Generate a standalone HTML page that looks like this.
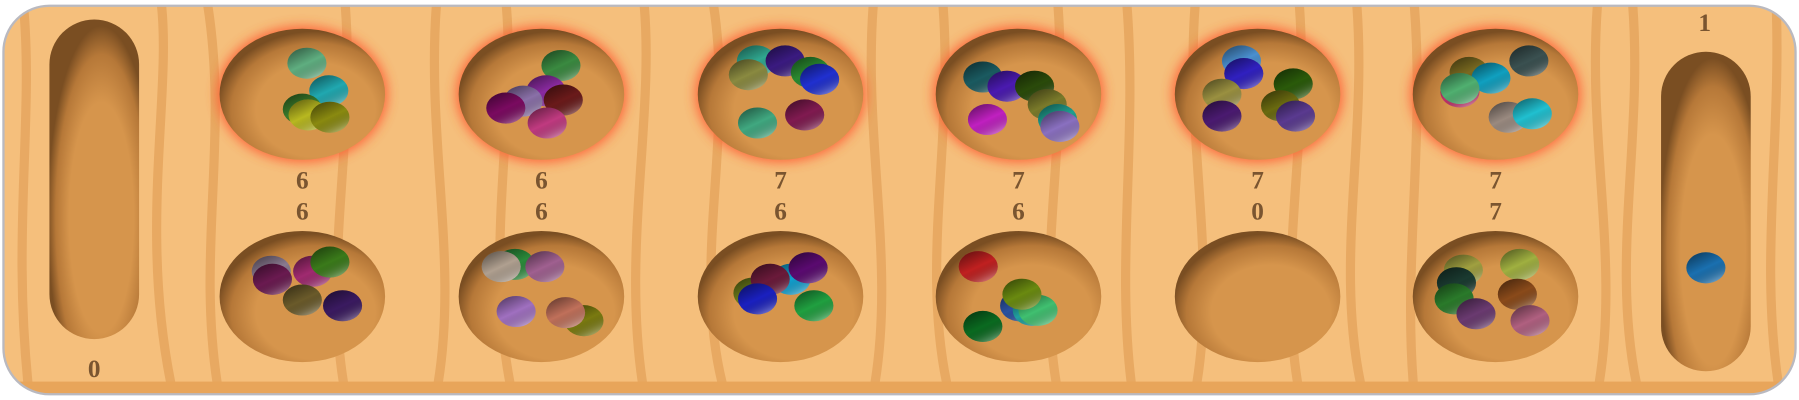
<!DOCTYPE html>
<html><head><meta charset="utf-8"><style>
html,body{margin:0;padding:0;background:#fff;width:1799px;height:400px;overflow:hidden}
svg{display:block}
text{font-family:"Liberation Serif",serif;font-weight:bold;font-size:22px;fill:#7a5530;text-anchor:middle}
</style></head><body>
<svg width="1799" height="400" viewBox="0 0 1565 348" preserveAspectRatio="none">
<defs>
<radialGradient id="pitg" cx="0.58" cy="0.62" r="0.6">
<stop offset="0.6" stop-color="#d6954c"/><stop offset="0.85" stop-color="#b67838"/><stop offset="1" stop-color="#7a4e22"/></radialGradient>
<linearGradient id="shade" x1="0.2" y1="0" x2="0.8" y2="1">
<stop offset="0" stop-color="#000" stop-opacity="0.45"/><stop offset="0.5" stop-color="#000" stop-opacity="0"/><stop offset="1" stop-color="#fff" stop-opacity="0.45"/></linearGradient>
<filter id="glow" x="-30%" y="-30%" width="160%" height="160%"><feGaussianBlur stdDeviation="5"/></filter>
<clipPath id="bclip"><rect x="3" y="5" width="1559" height="338" rx="40"/></clipPath>
</defs>
<g clip-path="url(#bclip)">
<rect x="0" y="0" width="1565" height="348" fill="#f5bf7c"/>
<g fill="none" stroke="#e5a45c" stroke-width="8" opacity="0.8">
<path d="M20 0 C30 100 10 200 25 340"/><path d="M140 0 C150 80 120 200 150 340"/><path d="M180 0 C200 120 170 220 190 340"/>
<path d="M380 0 C370 120 400 230 380 340"/><path d="M440 0 C450 100 420 220 445 340"/><path d="M560 0 C570 100 540 220 560 340"/>
<path d="M620 0 C640 120 600 230 630 340"/><path d="M760 0 C750 120 780 230 760 340"/><path d="M820 0 C830 120 800 230 825 340"/>
<path d="M980 0 C990 120 970 230 985 340"/><path d="M1040 0 C1030 120 1060 230 1040 340"/><path d="M1180 0 C1190 120 1160 230 1185 340"/>
<path d="M1230 0 C1240 120 1220 230 1230 340"/><path d="M1390 0 C1380 120 1410 230 1390 340"/><path d="M1420 0 C1430 120 1400 230 1425 340"/><path d="M1545 0 C1550 120 1530 230 1548 340"/>
<path d="M300 0 C310 120 280 230 300 340"/><path d="M920 0 C930 120 900 230 920 340"/><path d="M1130 0 C1140 120 1110 230 1130 340"/>
</g>
<rect x="0" y="332" width="1565" height="16" fill="#e8a55a"/>
</g>
<rect x="3" y="5" width="1559" height="338" rx="40" fill="none" stroke="#b9b9c0" stroke-width="2"/>
<g id="stores">
<rect x="43" y="17" width="78" height="278" rx="39" fill="url(#pitg)"/>
<rect x="1445" y="45" width="78" height="278" rx="39" fill="url(#pitg)"/>
</g>
<g id="pits"></g>
<g id="stones"></g>
<g id="labels">
<text x="82" y="328">0</text>
<text x="1483" y="27">1</text>
</g>
</svg>
<script>
const NS="http://www.w3.org/2000/svg";
const pitX=[263,471,679,886,1094,1301];
const topCounts=[6,6,7,7,7,7];
const botCounts=[6,6,6,6,0,7];
const topStones=[
[[267,55,"#5fae80"],[286,79,"#20a8b0"],[263,95,"#3a7a2a"],[268,100,"#b8b820"],[287,102,"#8a8a10"]],
[[488,57,"#3a8a40"],[475,79,"#8a2aa0"],[455,88,"#8a70a8"],[440,94,"#7a0a60"],[490,87,"#6a1a1a"],[476,107,"#c03a80"]],
[[658,53,"#30a890"],[683,53,"#3a1a80"],[705,63,"#2a8a30"],[713,69,"#2030d0"],[651,65,"#8a8a40"],[659,107,"#40a880"],[700,100,"#801a50"]],
[[855,67,"#1a5a60"],[876,75,"#4a1ab0"],[900,75,"#2a4a0a"],[911,91,"#7a7a2a"],[859,104,"#c020c0"],[920,104,"#20a090"],[922,110,"#8a70c0"]],
[[1080,53,"#4a90d0"],[1082,64,"#3020c0"],[1125,73,"#2a5a0a"],[1063,82,"#9a9040"],[1114,92,"#6a6a10"],[1063,101,"#4a1a70"],[1127,101,"#5a3a90"]],
[[1278,63,"#7a6a20"],[1297,68,"#10a0c0"],[1330,53,"#3a5050"],[1270,80,"#c0306a"],[1270,77,"#50b070"],[1312,102,"#9a8a80"],[1333,99,"#20c0d0"]]];
const botStones=[
[[236,236,"#8a7a90"],[237,243,"#6a1a50"],[272,236,"#a02a70"],[287,228,"#3a7a1a"],[263,261,"#6a5a2a"],[298,266,"#3a1a60"]],
[[448,230,"#2a8a3a"],[436,232,"#b0a090"],[474,232,"#a06090"],[508,279,"#7a7a10"],[449,271,"#a070c0"],[492,272,"#c0705a"]],
[[655,255,"#6a7a1a"],[688,243,"#10a0d0"],[670,243,"#6a1a3a"],[703,233,"#5a0a70"],[659,260,"#1a20c0"],[708,266,"#20a040"]],
[[851,232,"#c02020"],[887,266,"#2a50a0"],[898,270,"#20a0a0"],[903,270,"#40c070"],[889,256,"#6a8a10"],[855,284,"#0a6a20"]],
[],
[[1273,235,"#a0a040"],[1322,230,"#a0b040"],[1267,246,"#1a3a30"],[1265,260,"#2a7a2a"],[1320,256,"#8a4a1a"],[1284,273,"#6a3a70"],[1331,279,"#b06080"]]];
const storeStones=[[1484,233,"#1a70b0"]];
const pitsG=document.getElementById('pits'),stG=document.getElementById('stones'),lg=document.getElementById('labels');
function mk(t,a,p){const e=document.createElementNS(NS,t);for(const k in a)e.setAttribute(k,a[k]);p.appendChild(e);return e;}
pitX.forEach((x,i)=>{
 const g=mk('ellipse',{cx:x,cy:82,rx:74,ry:59,fill:'#ff5a30',opacity:0.9,filter:'url(#glow)'},pitsG);
 
 
 const t=mk('ellipse',{cx:x,cy:82,rx:72,ry:57,fill:'url(#pitg)'},pitsG);
 
 
 const b=mk('ellipse',{cx:x,cy:258,rx:72,ry:57,fill:'url(#pitg)'},pitsG);
 
 
 const l1=mk('text',{x:x,y:164},lg);l1.textContent=topCounts[i];
 
 
 const l2=mk('text',{x:x,y:191},lg);l2.textContent=botCounts[i];
 
 
});
function stone(s){
 const e=mk('ellipse',{cx:s[0],cy:s[1],rx:17,ry:13.5,fill:s[2]},stG);
 
 
 mk('ellipse',{cx:s[0],cy:s[1],rx:17,ry:13.5,fill:'url(#shade)'},stG);
}
topStones.forEach(p=>p.forEach(stone));botStones.forEach(p=>p.forEach(stone));storeStones.forEach(stone);
</script>
</body></html>
